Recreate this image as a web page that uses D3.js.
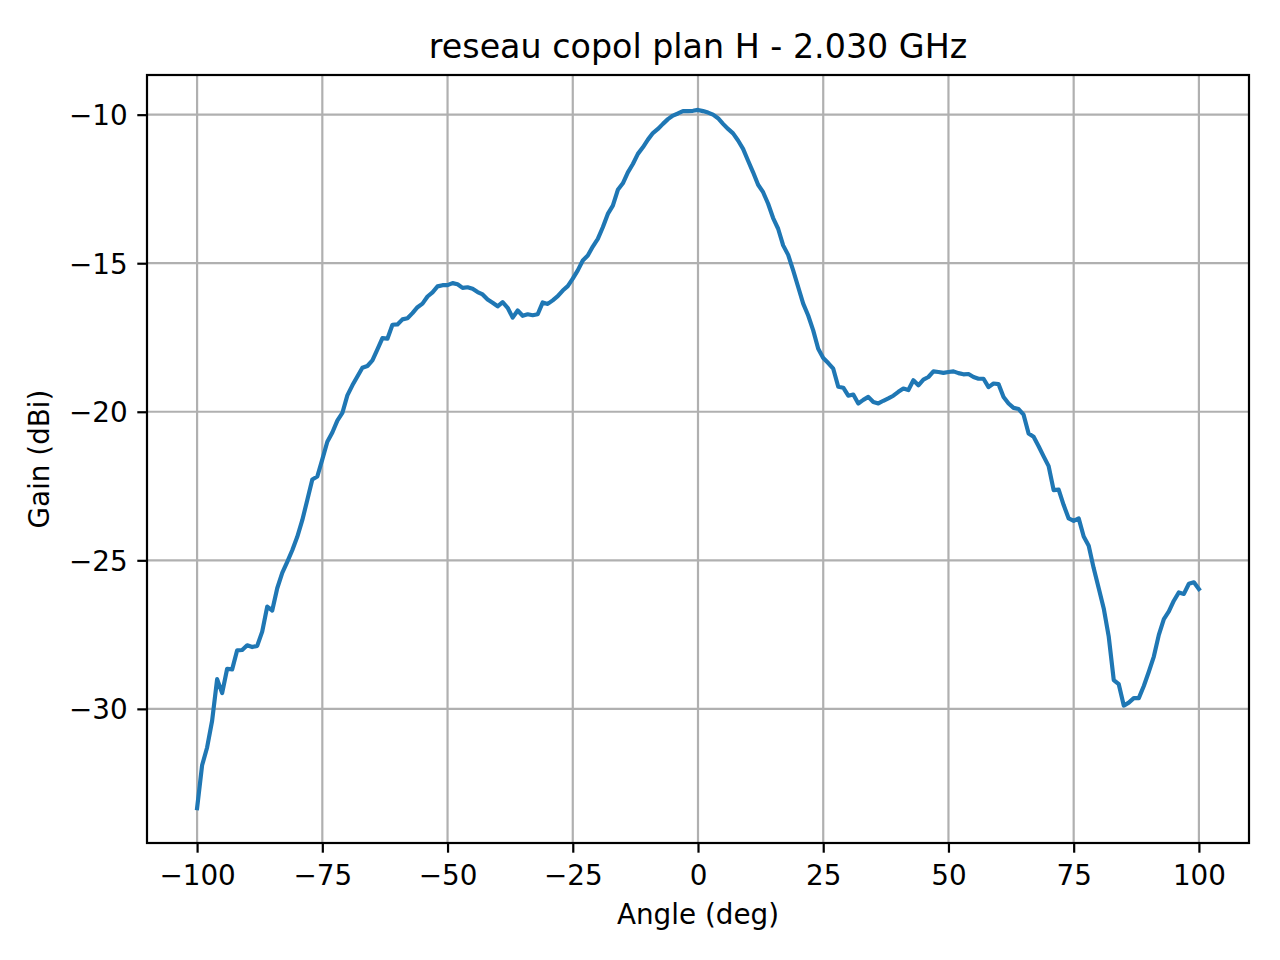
<!DOCTYPE html>
<html>
<head>
<meta charset="utf-8">
<script src="https://cdn.jsdelivr.net/npm/d3@7"></script>
<style>
  html, body { margin: 0; padding: 0; background: #fff; }
  svg { display: block; font-family: "DejaVu Sans", sans-serif; }
</style>
</head>
<body>
<svg id="chart" width="1280" height="960"></svg>
<script>
const title = "reseau copol plan H - 2.030 GHz";
const xLabel = "Angle (deg)";
const yLabel = "Gain (dBi)";
const xTicks = [-100, -75, -50, -25, 0, 25, 50, 75, 100];
const yTicks = [-30, -25, -20, -15, -10];

const angles = [
  -100,-99,-98,-97,-96,-95,-94,-93,-92,-91,-90,-89,-88,-87,-86,-85,-84,-83,-82,-81,
  -80,-79,-78,-77,-76,-75,-74,-73,-72,-71,-70,-69,-68,-67,-66,-65,-64,-63,-62,-61,
  -60,-59,-58,-57,-56,-55,-54,-53,-52,-51,-50,-49,-48,-47,-46,-45,-44,-43,-42,-41,
  -40,-39,-38,-37,-36,-35,-34,-33,-32,-31,-30,-29,-28,-27,-26,-25,-24,-23,-22,-21,
  -20,-19,-18,-17,-16,-15,-14,-13,-12,-11,-10,-9,-8,-7,-6,-5,-4,-3,-2,-1,
  0,1,2,3,4,5,6,7,8,9,10,11,12,13,14,15,16,17,18,19,
  20,21,22,23,24,25,26,27,28,29,30,31,32,33,34,35,36,37,38,39,
  40,41,42,43,44,45,46,47,48,49,50,51,52,53,54,55,56,57,58,59,
  60,61,62,63,64,65,66,67,68,69,70,71,72,73,74,75,76,77,78,79,
  80,81,82,83,84,85,86,87,88,89,90,91,92,93,94,95,96,97,98,99,
  100
];

const gain = [
  -33.34,-31.90,-31.30,-30.40,-29.00,-29.47,-28.65,-28.67,-28.03,-28.02,
  -27.86,-27.92,-27.88,-27.40,-26.56,-26.69,-25.94,-25.42,-25.05,-24.66,
  -24.21,-23.65,-22.97,-22.28,-22.18,-21.60,-21.01,-20.70,-20.30,-20.04,
  -19.45,-19.11,-18.81,-18.52,-18.46,-18.27,-17.90,-17.52,-17.54,-17.07,
  -17.06,-16.89,-16.85,-16.68,-16.48,-16.36,-16.12,-15.98,-15.78,-15.74,
  -15.74,-15.67,-15.71,-15.83,-15.81,-15.86,-15.97,-16.05,-16.22,-16.33,
  -16.45,-16.31,-16.50,-16.83,-16.59,-16.77,-16.72,-16.75,-16.72,-16.32,
  -16.37,-16.25,-16.11,-15.92,-15.77,-15.52,-15.24,-14.91,-14.74,-14.44,
  -14.18,-13.79,-13.34,-13.06,-12.53,-12.31,-11.94,-11.66,-11.32,-11.10,
  -10.84,-10.62,-10.48,-10.31,-10.15,-10.03,-9.96,-9.88,-9.88,-9.87,
  -9.84,-9.88,-9.93,-10.00,-10.12,-10.31,-10.48,-10.63,-10.87,-11.15,
  -11.55,-11.94,-12.36,-12.61,-13.00,-13.48,-13.84,-14.40,-14.72,-15.24,
  -15.80,-16.36,-16.76,-17.26,-17.88,-18.19,-18.36,-18.55,-19.16,-19.19,
  -19.46,-19.42,-19.72,-19.60,-19.50,-19.67,-19.72,-19.63,-19.55,-19.46,
  -19.33,-19.22,-19.27,-18.94,-19.11,-18.92,-18.83,-18.64,-18.66,-18.69,
  -18.66,-18.64,-18.70,-18.74,-18.73,-18.83,-18.89,-18.89,-19.17,-19.05,
  -19.07,-19.50,-19.72,-19.87,-19.91,-20.10,-20.73,-20.84,-21.16,-21.50,
  -21.83,-22.64,-22.62,-23.14,-23.59,-23.67,-23.59,-24.20,-24.51,-25.27,
  -25.94,-26.62,-27.57,-29.03,-29.17,-29.89,-29.79,-29.64,-29.64,-29.23,
  -28.75,-28.24,-27.51,-26.98,-26.72,-26.36,-26.08,-26.13,-25.79,-25.74,
  -25.97
];

const data = angles.map((a, i) => ({ a, g: gain[i] }));

const L = 147, R = 1249, T = 75, B = 843;
const fs = 27.8;

const svg = d3.select("#chart");

// matplotlib-like 5% margins
const xMin = d3.min(angles), xMax = d3.max(angles);
const yMin = d3.min(gain), yMax = d3.max(gain);
const xm = (xMax - xMin) * 0.05, ym = (yMax - yMin) * 0.05;

const x = d3.scaleLinear().domain([xMin - xm, xMax + xm]).range([L, R]);
const y = d3.scaleLinear().domain([yMin - ym, yMax + ym]).range([B, T]);

// grid
const grid = svg.append("g").attr("stroke", "#b0b0b0").attr("stroke-width", 2.2);
grid.selectAll("line.vx").data(xTicks).join("line")
  .attr("x1", d => x(d)).attr("x2", d => x(d)).attr("y1", T).attr("y2", B);
grid.selectAll("line.hy").data(yTicks).join("line")
  .attr("y1", d => y(d)).attr("y2", d => y(d)).attr("x1", L).attr("x2", R);

// line
svg.append("path")
  .datum(data)
  .attr("fill", "none")
  .attr("stroke", "#1f77b4")
  .attr("stroke-width", 4.17)
  .attr("stroke-linejoin", "round")
  .attr("stroke-linecap", "square")
  .attr("d", d3.line().x(d => x(d.a)).y(d => y(d.g)));

// axes
const fmt = d => (d < 0 ? "\u2212" + Math.abs(d) : String(d));
const xAxis = d3.axisBottom(x).tickValues(xTicks).tickFormat(fmt).tickSize(9.7).tickPadding(9.7);
const yAxis = d3.axisLeft(y).tickValues(yTicks).tickFormat(fmt).tickSize(9.7).tickPadding(9.7);

const gx = svg.append("g").attr("transform", `translate(0,${B})`).call(xAxis);
const gy = svg.append("g").attr("transform", `translate(${L},0)`).call(yAxis);
[gx, gy].forEach(g => {
  g.select(".domain").remove();
  g.selectAll(".tick line").attr("stroke", "#000").attr("stroke-width", 2.2);
  g.selectAll(".tick text").attr("fill", "#000")
    .style("font-family", "'DejaVu Sans', sans-serif").style("font-size", fs + "px");
});
gx.selectAll(".tick text").attr("dy", null).attr("y", 42);
gy.selectAll(".tick text").attr("dy", "0.36em");

// frame
svg.append("rect")
  .attr("x", L).attr("y", T).attr("width", R - L).attr("height", B - T)
  .attr("fill", "none").attr("stroke", "#000").attr("stroke-width", 2.2);

// title and labels
svg.append("text").attr("x", (L + R) / 2).attr("y", 58)
  .attr("text-anchor", "middle").style("font-size", "33.3px").attr("fill", "#000")
  .text(title);
svg.append("text").attr("x", (L + R) / 2).attr("y", 924)
  .attr("text-anchor", "middle").style("font-size", fs + "px").attr("fill", "#000")
  .text(xLabel);
svg.append("text")
  .attr("transform", `translate(49,${(T + B) / 2}) rotate(-90)`)
  .attr("text-anchor", "middle").style("font-size", fs + "px").attr("fill", "#000")
  .text(yLabel);
</script>
</body>
</html>
